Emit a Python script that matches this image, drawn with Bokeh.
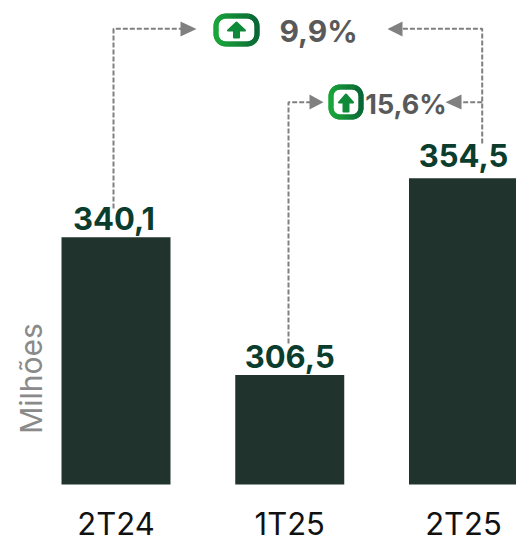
from math import pi, radians, cos, sin
from bokeh.plotting import figure
from bokeh.embed import file_html
from bokeh.resources import INLINE
from bokeh.models import Range1d, LinearAxis, FixedTicker, ColumnDataSource
from bokeh.core.properties import value

categories = ["2T24", "1T25", "2T25"]
values = [340.1, 306.5, 354.5]
value_labels = ["340,1", "306,5", "354,5"]
delta_labels = ["9,9%", "15,6%"]
axis_title = "Milhões"

FONT = "Inter"
BAR = "#20342d"
VAL = "#0b3d2e"
GREY = "#808080"
DELTA = "#595959"

W, H = 516, 540
STEP = 173.75
PX = 4.1
BASE = 279.8
c0 = 115.5
FLOOR = 484  # page pixel of the baseline

xr = Range1d(-c0 / STEP, 2 + (W - (c0 + 2 * STEP)) / STEP)
yr = Range1d(BASE - (H - FLOOR) / PX, BASE + FLOOR / PX)

p = figure(width=W, height=H, x_range=xr, y_range=yr, output_backend="svg",
           toolbar_location=None, x_axis_type=None, y_axis_type=None,
           min_border_left=0, min_border_right=0, min_border_top=0, min_border_bottom=0,
           outline_line_color=None)
p.grid.visible = False


def X(s):  # page pixel to x
    return (s - c0) / STEP


def Y(s):  # page pixel to y
    return BASE + (FLOOR - s) / PX


# category axis: fixed to the baseline, its labels lie inside the frame
xa = LinearAxis(ticker=FixedTicker(ticks=[0, 1, 2]), fixed_location=BASE,
                major_label_overrides={i: c for i, c in enumerate(categories)})
xa.axis_line_color = None
xa.major_tick_line_color = None
xa.minor_tick_line_color = None
xa.major_tick_out = 0
xa.major_tick_in = 0
xa.major_label_text_font = FONT
xa.major_label_text_font_size = "31px"
xa.major_label_text_color = "#111111"
xa.major_label_standoff = 20
p.add_layout(xa, "below")

# unit title
p.text([X(30)], [Y(378)], text=[axis_title], angle=pi / 2, text_font=value(FONT),
       text_font_size="30px", text_color="#8a8a8a", text_align="center", text_baseline="middle")

# bars
xs = list(range(len(categories)))
src = ColumnDataSource(dict(x=xs, top=values, lab=value_labels, dx=[-2, 0, 0], dy=[-7, -7, -11]))
p.vbar(x="x", top="top", bottom=BASE, width=109 / STEP, source=src, fill_color=BAR, line_color=None)
p.text(x="x", y="top", text="lab", source=src, text_font=value(FONT), text_font_style="bold",
       text_font_size="31px", text_color=VAL, text_align="center", text_baseline="bottom",
       x_offset="dx", y_offset="dy")

# connectors
paths = [
    ([113, 113, 184], [208, 28.3, 28.3]),
    ([481.7, 481.7, 400], [143, 28.3, 28.3]),
    ([288, 288, 312], [343, 101.7, 101.7]),
    ([481.7, 458], [101.7, 101.7]),
]
for px, py in paths:
    p.line([X(v) for v in px], [Y(v) for v in py], line_color=GREY, line_width=2, line_dash="5 2")

heads = [
    ([180, 196, 180], [21, 28.5, 36]),
    ([402, 387, 402], [21, 28.5, 36]),
    ([309, 323, 309], [94, 101.7, 109]),
    ([461, 445, 461], [94, 101.7, 109]),
]
for px, py in heads:
    p.patch([X(v) for v in px], [Y(v) for v in py], fill_color=GREY, line_color=None)


# up-arrow badges
def lerp(t):
    a, b = (0x1a, 0xa5, 0x3a), (0x0a, 0x68, 0x36)
    return "#%02x%02x%02x" % tuple(round(u + (v - u) * t) for u, v in zip(a, b))


def badge(x0, x1, y0, y1, r, cx, top, head_h, head_w, shaft_w, bottom):
    pts = []
    for (ax, ay, a0) in [(x1 - r, y0 + r, -90), (x1 - r, y1 - r, 0), (x0 + r, y1 - r, 90), (x0 + r, y0 + r, 180)]:
        for k in range(9):
            a = radians(a0 + k * 90 / 8)
            pts.append((ax + r * cos(a), ay + r * sin(a)))
    dense = []
    n = len(pts)
    for i in range(n):
        a, b = pts[i], pts[(i + 1) % n]
        m = max(1, int(max(abs(a[0] - b[0]), abs(a[1] - b[1])) / 2))
        for k in range(m):
            dense.append((a[0] + (b[0] - a[0]) * k / m, a[1] + (b[1] - a[1]) * k / m))
    dense.append(dense[0])
    seg_x, seg_y, cols = [], [], []
    for a, b in zip(dense[:-1], dense[1:]):
        seg_x.append([X(a[0]), X(b[0])])
        seg_y.append([Y(a[1]), Y(b[1])])
        cols.append(lerp(((a[0] + b[0]) / 2 - x0) / (x1 - x0)))
    p.multi_line(seg_x, seg_y, line_color=cols, line_width=5, line_cap="round")
    hw, sw = head_w / 2, shaft_w / 2
    ax = [cx, cx + hw, cx + sw, cx + sw, cx - sw, cx - sw, cx - hw]
    ay = [top, top + head_h, top + head_h, bottom, bottom, top + head_h, top + head_h]
    p.patch([X(v) for v in ax], [Y(v) for v in ay], fill_color="#0e8a38", line_color="#0e8a38",
            line_width=2, line_join="round")


badge(215.5, 256.5, 15.5, 43.5, 10, 236, 22, 8, 17, 5, 37)
badge(330.5, 360.5, 86.5, 116.5, 9, 345.5, 94, 8, 14, 5, 111)

# delta texts
p.text([X(318)], [Y(30)], text=[delta_labels[0]], text_font=value(FONT), text_font_style="bold",
       text_font_size="30px", text_color=DELTA, text_align="center", text_baseline="middle")
p.text([X(405.5)], [Y(104)], text=[delta_labels[1]], text_font=value(FONT), text_font_style="bold",
       text_font_size="27px", text_color=DELTA, text_align="center", text_baseline="middle")

open("out.html", "w").write(file_html(p, INLINE))
